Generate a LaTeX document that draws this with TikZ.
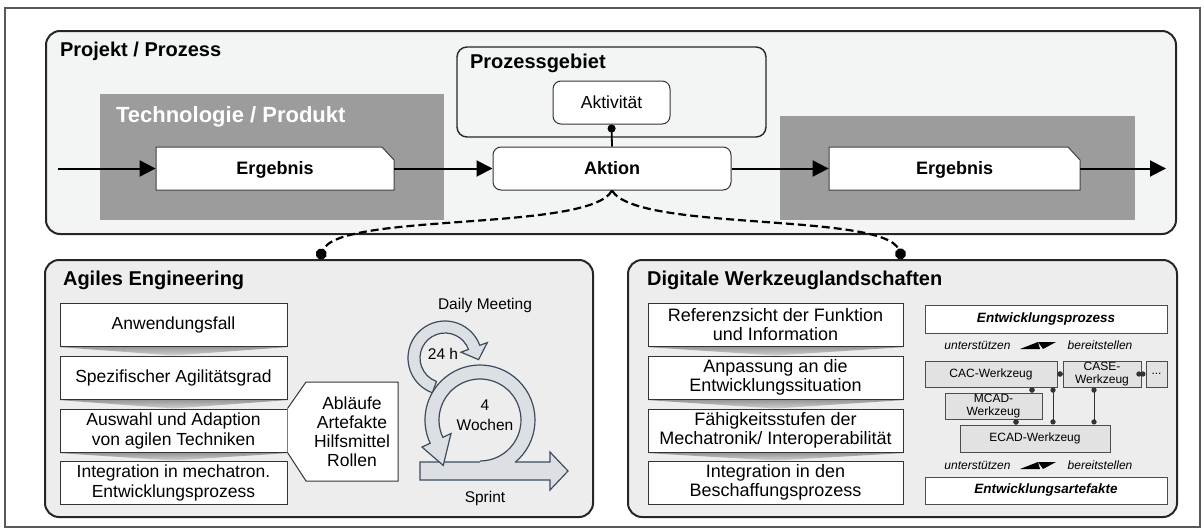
\documentclass[tikz,border=0pt]{standalone}
\usepackage{fontspec}
\setmainfont{Liberation Sans}
\usetikzlibrary{arrows.meta,calc}

\definecolor{panelbg}{HTML}{F3F5F5}
\definecolor{boxbg}{HTML}{EDEDED}
\definecolor{darkbg}{HTML}{9C9C9C}
\definecolor{toolbg}{HTML}{E2E2E2}
\definecolor{ringbg}{HTML}{DCE0E4}
\definecolor{ringcol}{HTML}{3D4C5C}

\newcommand{\fs}[2]{\fontsize{#1}{#2}\selectfont}

\begin{document}
\begin{tikzpicture}[x=0.5pt,y=-0.5pt,
    wh/.style 2 args={minimum width=#1*0.5pt,minimum height=#2*0.5pt,inner sep=0pt},
    panel/.style={draw=black!85,line width=1pt,rounded corners=7pt},
    head/.style={anchor=base west,font=\fs{10}{12}\bfseries},
    flow/.style={line width=1pt,-{Triangle[length=8pt,width=8pt]}},
    res/.style={font=\fs{9}{11}\bfseries},
    act/.style={draw=black!80,fill=white,line width=0.5pt,rounded corners=4pt},
    stack/.style={draw=black!80,fill=white,line width=0.5pt,align=center},
    dashcurve/.style={line width=1.1pt,dash pattern=on 4pt off 2pt,-{Circle[length=5.5pt]}},
    ring/.style={fill=ringbg,draw=ringcol,line width=0.6pt},
    ringedge/.style={draw=ringcol,line width=0.6pt},
    tbox/.style={draw=black!70,fill=white,line width=0.5pt,font=\fs{6.75}{8}\bfseries\itshape},
    tool/.style={draw=black!70,fill=toolbg,line width=0.5pt,align=center,font=\fs{6}{6.5}},
    hint/.style={font=\fs{6}{7}\itshape},
    link/.style={line width=0.5pt,black!80,{Circle[length=2.6pt]}-{Circle[length=2.6pt]}}]
\useasboundingbox (0,0) rectangle (1204,530);
\draw[black!65,line width=0.6pt] (5,8) rectangle (1200,527);

\node[panel,fill=panelbg,wh={1130}{203}] (proj) at (611,132.5) {};
\node[head] at (53,56) {Projekt / Prozess};
\node[fill=darkbg,wh={344}{126}] (tech) at (272,157) {};
\node[anchor=base west,font=\fs{11}{13}\bfseries,text=white] at (109,122) {Technologie / Produkt};
\node[fill=darkbg,wh={355}{104}] (prod) at (957.5,168) {};
\node[draw=black!85,line width=0.7pt,rounded corners=5pt,fill=panelbg,wh={309}{90}] (gebiet) at (611.5,92) {};
\node[head] at (463,68) {Prozessgebiet};
\node[act,wh={117}{43},font=\fs{8.75}{10}] (aktiv) at (611.5,102.5) {Aktivität};
\node[act,wh={238}{43},res] (aktion) at (612,168.5) {Aktion};

\filldraw[draw=black!75,fill=white,line width=0.5pt] (156,190) -- (156,147) -- (382,147) -- (394,160) -- (394,190) -- cycle;
\node[res,wh={238}{43}] (erg1) at (275,170) {Ergebnis};
\filldraw[draw=black!75,fill=white,line width=0.5pt] (829,190) -- (829,147) -- (1068,147) -- (1080,160) -- (1080,190) -- cycle;
\node[res,wh={251}{43}] (erg2) at (954.5,170) {Ergebnis};

\coordinate (in) at (58,168.5);
\coordinate (out) at (1166,168.5);
\draw[flow] (in) -- (erg1.west |- in);
\draw[flow] (erg1.east |- in) -- (aktion);
\draw[flow] (aktion) -- (erg2.west |- in);
\draw[flow] (erg2.east |- in) -- (out);
\draw[line width=0.9pt,-{Circle[length=4pt]}] (aktion.north) -- (aktiv.south);

\node[panel,fill=boxbg,wh={548}{257}] (agile) at (319,388.5) {};
\node[panel,fill=boxbg,wh={549}{257}] (digi) at (902.5,388.5) {};
\draw[dashcurve] (aktion.south) .. controls (590,232) and (340,212) .. (agile.north);
\draw[dashcurve] (aktion.south) .. controls (636,232) and (884,212) .. (digi.north);

\node[head] at (56,285) {Agiles Engineering};
\node[stack,wh={227}{43},font=\fs{8.75}{10}] (ag1) at (173.5,324.5) {Anwendungsfall};
\node[stack,wh={227}{43},font=\fs{8.75}{10}] (ag2) at (173.5,377.5) {Spezifischer Agilitätsgrad};
\node[stack,wh={227}{43},font=\fs{8.75}{10}] (ag3) at (173.5,430.5) {Auswahl und Adaption\\von agilen Techniken};
\node[stack,wh={227}{43},font=\fs{8.75}{10}] (ag4) at (173.5,482.5) {Integration in mechatron.\\Entwicklungsprozess};

\filldraw[draw=black!80,fill=white,line width=0.5pt] (ag3.north east) -- (306,382) -- (398,382) -- (398,481) -- (306,481) -- (ag3.south east);
\node[align=center,font=\fs{8.75}{9.5}] (teile) at (352,431.5) {Abläufe\\Artefakte\\Hilfsmittel\\Rollen};

\node[head] at (640,285) {Digitale Werkzeuglandschaften};
\node[stack,wh={255}{43},font=\fs{9}{9.75}] (dw1) at (775.5,324.5) {Referenzsicht der Funktion\\und Information};
\node[stack,wh={255}{43},font=\fs{9}{9.75}] (dw2) at (775.5,377.5) {Anpassung an die\\Entwicklungssituation};
\node[stack,wh={255}{43},font=\fs{9}{9.75}] (dw3) at (775.5,430.5) {Fähigkeitsstufen der\\Mechatronik/ Interoperabilität};
\node[stack,wh={255}{43},font=\fs{9}{9.75}] (dw4) at (775.5,482.5) {Integration in den\\Beschaffungsprozess};

\foreach \a/\b in {ag1/ag2,ag2/ag3,ag3/ag4,dw1/dw2,dw2/dw3,dw3/dw4}
  \shade[top color=gray!80,bottom color=gray!35] ([yshift=-0.3pt]\a.south west) -- ([yshift=-0.3pt]\a.south east) -- (\b.north) -- cycle;

\coordinate (c1) at (480,420);
\coordinate (c2) at (445,358);
\filldraw[ring] ($(c2)+(110:37)$) arc[start angle=110,end angle=340,radius=37] -- ($(c2)+(340:45)$) -- ($(c2)+(340:31)+(70:13)$) -- ($(c2)+(340:17)$) -- ($(c2)+(340:25)$) arc[start angle=340,end angle=110,radius=25] -- cycle;
\filldraw[ring] (420,462) -- (550,462) -- (550,452) -- (568,471) -- (550,490) -- (550,480) -- (420,480) -- cycle;
\fill[ringbg] ($(c1)+(90:55)$) arc[start angle=90,end angle=-205,radius=55] -- ($(c1)+(-205:64)$) -- ($(c1)+(-205:48)+(75:26)$) -- ($(c1)+(-205:32)$) -- ($(c1)+(-205:41)$) arc[start angle=-205,end angle=90,radius=41] -- cycle;
\draw[ringedge] ($(c1)+(50:55)$) arc[start angle=50,end angle=-205,radius=55] -- ($(c1)+(-205:64)$) -- ($(c1)+(-205:48)+(75:26)$) -- ($(c1)+(-205:32)$) -- ($(c1)+(-205:41)$) arc[start angle=-205,end angle=90,radius=41];
\node[font=\fs{7.75}{9}] (daily) at (485,305) {Daily Meeting};
\node[font=\fs{7.75}{9}] (tag) at (443,354) {24 h};
\node[font=\fs{7.75}{10},align=center] (wochen) at (485,415) {4\\Wochen};
\node[font=\fs{7.75}{9}] (sprint) at (485,498) {Sprint};

\node[tbox,wh={242}{28}] (prozess) at (1046,319) {Entwicklungsprozess};
\node[tool,wh={132}{26}] (cac) at (991,374) {CAC-Werkzeug};
\node[tool,wh={78}{26}] (case) at (1102,374) {CASE-\\Werkzeug};
\node[tool,wh={21}{26}] (more) at (1156.5,374) {...};
\node[tool,wh={97}{26}] (mcad) at (993.5,406) {MCAD-\\Werkzeug};
\node[tool,wh={150}{27}] (ecad) at (1035,438.5) {ECAD-Werkzeug};
\node[tbox,wh={242}{27}] (artefakt) at (1046,490.5) {Entwicklungsartefakte};
\foreach \y in {345,465} {
  \node[hint] (unt\y) at (977.5,\y) {unterstützen};
  \node[hint] (ber\y) at (1100,\y) {bereitstellen};
  \fill (1020,\y+4) -- (1038,\y-3) -- (1040,\y+4) -- cycle;
  \fill (1038,\y-3) -- (1056,\y-3) -- (1043,\y+4) -- cycle;
}
\draw[link] (cac) -- (case);
\draw[link] (case) -- (more);
\draw[link] (1032,0 |- cac.south) -- (1032,0 |- mcad.north);
\draw[link] (1053,0 |- cac.south) -- (1053,0 |- ecad.north);
\draw[link] (1094,0 |- case.south) -- (1094,0 |- ecad.north);
\draw[link] (1016,0 |- mcad.south) -- (1016,0 |- ecad.north);
\end{tikzpicture}
\end{document}
